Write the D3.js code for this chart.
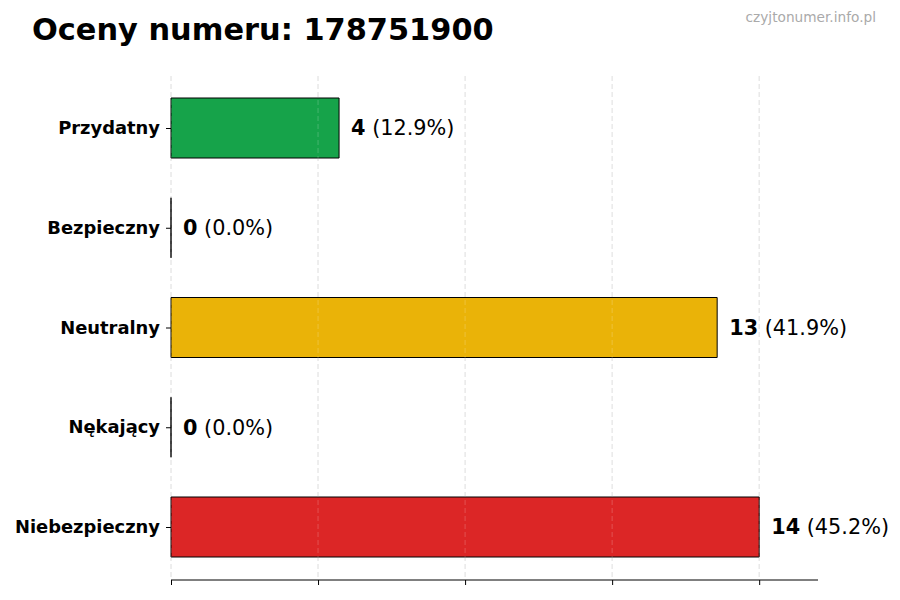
<!DOCTYPE html>
<html>
<head>
<meta charset="utf-8">
<script src="https://cdn.jsdelivr.net/npm/d3@7"></script>
<style>
  body { margin: 0; background: #fff; }
  svg { font-family: "DejaVu Sans", sans-serif; }
</style>
</head>
<body>
<div id="chart"></div>
<script>
var categories = ["Przydatny", "Bezpieczny", "Neutralny", "Nękający", "Niebezpieczny"];
var counts = [4, 0, 13, 0, 14];
var percents = ["12.9%", "0.0%", "41.9%", "0.0%", "45.2%"];
var barColors = ["#16a34a", "#16a34a", "#eab308", "#dc2626", "#dc2626"];
var xTicks = [0, 3.5, 7, 10.5, 14];

var width = 900, height = 600;
var svg = d3.select("#chart").append("svg")
  .attr("width", width).attr("height", height);

var x = d3.scaleLinear().domain([0, 15.4]).range([171, 818]);
// bar centres, one unit per category
var y = d3.scaleLinear().domain([0, 4]).range([128, 527]);
var barH = 60;

// dashed grid
svg.append("g").selectAll("line").data(xTicks)
  .enter().append("line")
    .attr("x1", function(d) { return x(d); })
    .attr("x2", function(d) { return x(d); })
    .attr("y1", 76).attr("y2", 580)
    .attr("stroke", "#d0d0d0")
    .attr("stroke-width", 0.8)
    .attr("stroke-dasharray", "5,3");

// bars as paths so zero-width ones still show their outline
svg.append("g").selectAll("path").data(counts)
  .enter().append("path")
    .attr("d", function(d, i) {
      var x0 = x(0), y0 = y(i) - barH / 2, w = x(d) - x(0);
      return "M" + x0 + "," + y0 + "h" + w + "v" + barH + "h" + (-w) + "Z";
    })
    .attr("fill", function(d, i) { return barColors[i]; })
    .attr("stroke", "#000")
    .attr("stroke-width", 1);

// grid faintly over the bars as well
svg.append("g").selectAll("line").data(xTicks)
  .enter().append("line")
    .attr("x1", function(d) { return x(d); })
    .attr("x2", function(d) { return x(d); })
    .attr("y1", 76).attr("y2", 580)
    .attr("stroke", "#ffffff")
    .attr("stroke-opacity", 0.25)
    .attr("stroke-width", 0.8)
    .attr("stroke-dasharray", "5,3");

// value labels
var labels = svg.append("g").selectAll("text").data(counts)
  .enter().append("text")
    .attr("x", function(d) { return x(d) + 12; })
    .attr("y", function(d, i) { return y(i); })
    .attr("dy", "0.35em")
    .style("font-size", "20.8px")
    .attr("fill", "#000");
labels.append("tspan")
  .style("font-weight", "bold")
  .text(function(d) { return d; });
labels.append("tspan")
  .text(function(d, i) { return " (" + percents[i] + ")"; });

// category axis
var yAxis = d3.axisLeft(y)
  .tickValues(d3.range(categories.length))
  .tickFormat(function(i) { return categories[i]; })
  .tickSize(5)
  .tickPadding(6);
var gy = svg.append("g").attr("transform", "translate(" + x(0) + ",0)").call(yAxis);
gy.select(".domain").remove();
gy.selectAll("text")
  .style("font-size", "17.9px")
  .style("font-weight", "bold")
  .style("font-family", "DejaVu Sans, sans-serif")
  .attr("fill", "#000");

// bottom axis without labels
var xAxis = d3.axisBottom(x).tickValues(xTicks).tickSize(5).tickFormat("");
var gx = svg.append("g").attr("transform", "translate(0,580)").call(xAxis);
gx.select(".domain").attr("d", "M" + x(0) + ",0H" + x(15.4));

// title and watermark
svg.append("text")
  .attr("x", 32).attr("y", 40)
  .style("font-size", "30.4px")
  .style("font-weight", "bold")
  .text("Oceny numeru: 178751900");

svg.append("text")
  .attr("x", 876).attr("y", 22)
  .attr("text-anchor", "end")
  .style("font-size", "13.7px")
  .attr("fill", "#aaaaaa")
  .text("czyjtonumer.info.pl");
</script>
</body>
</html>
